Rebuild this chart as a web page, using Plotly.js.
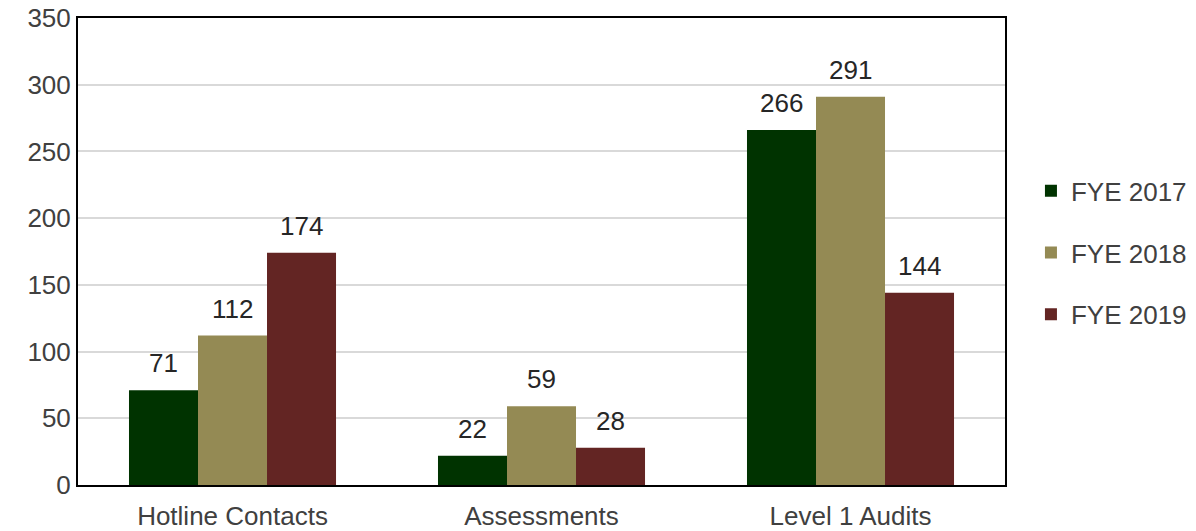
<!DOCTYPE html>
<html>
<head>
<meta charset="utf-8">
<script src="https://cdn.plot.ly/plotly-3.0.1.min.js"></script>
<style>html,body{margin:0;padding:0;background:#fff;}#chart{width:1196px;height:531px;}</style>
</head>
<body>
<div id="chart"></div>
<script>
const categories = ["Hotline Contacts", "Assessments", "Level 1 Audits"];
const seriesNames = ["FYE 2017", "FYE 2018", "FYE 2019"];
const fye2017 = [71, 22, 266];
const fye2018 = [112, 59, 291];
const fye2019 = [174, 28, 144];
const colors = ["#003300", "#948a54", "#632523"];
const yTicks = [0, 50, 100, 150, 200, 250, 300, 350];

const allSeries = [fye2017, fye2018, fye2019];
const bargap = 0.33;
const barW = (1 - bargap) / allSeries.length;

const traces = allSeries.map((vals, i) => ({
  type: "bar",
  name: seriesNames[i],
  x: categories,
  y: vals,
  marker: {color: colors[i], line: {width: 0}},
  legendgroup: "g" + i,
  hoverinfo: "y"
}));

const annotations = [];
allSeries.forEach((vals, i) => {
  vals.forEach((v, j) => {
    annotations.push({
      xref: "x", yref: "y",
      x: j + (i - 1) * barW,
      y: v,
      text: String(v),
      showarrow: false,
      yanchor: "bottom",
      yshift: 10,
      font: {family: "Liberation Sans, Arial, sans-serif", size: 26, color: "#262626"}
    });
  });
});

const layout = {
  width: 1196, height: 531,
  margin: {l: 78, r: 191, t: 18, b: 46},
  paper_bgcolor: "#fff", plot_bgcolor: "#fff",
  barmode: "group", bargap: bargap, bargroupgap: 0,
  font: {family: "Liberation Sans, Arial, sans-serif", size: 26, color: "#404040"},
  xaxis: {
    type: "category",
    showline: true, linecolor: "#000", linewidth: 2, mirror: true,
    ticks: "", showgrid: false,
    ticklabelstandoff: 7,
    automargin: false,
    tickfont: {size: 26, color: "#404040"}
  },
  yaxis: {
    range: [0, 350],
    tickvals: yTicks,
    showline: true, linecolor: "#000", linewidth: 2, mirror: true,
    showgrid: true, gridcolor: "#d9d9d9", gridwidth: 2,
    zeroline: false, ticks: "",
    automargin: false,
    tickfont: {size: 26, color: "#404040"}
  },
  legend: {
    xref: "container", yref: "container",
    x: 0.862, y: 0.524, xanchor: "left", yanchor: "middle",
    font: {size: 26, color: "#404040"},
    tracegroupgap: 25,
    itemwidth: 30
  },
  annotations: annotations,
  showlegend: true
};

Plotly.newPlot("chart", traces, layout, {displayModeBar: false, responsive: false});
</script>
</body>
</html>
